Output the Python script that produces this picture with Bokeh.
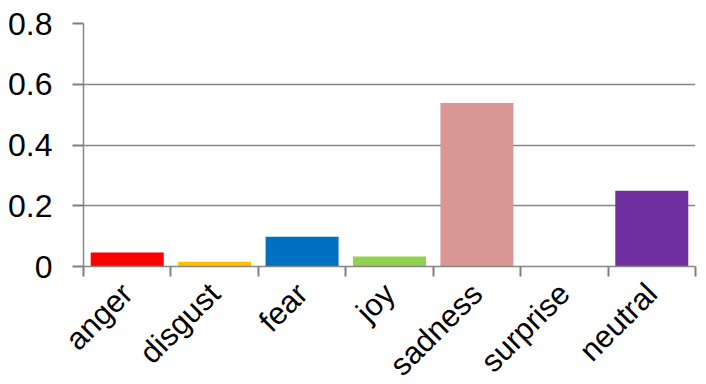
import math
from bokeh.plotting import figure
from bokeh.models import Range1d, FixedTicker, ColumnDataSource
from bokeh.embed import file_html
from bokeh.resources import INLINE

categories = ["anger", "disgust", "fear", "joy", "sadness", "surprise", "neutral"]
values = [0.046, 0.016, 0.098, 0.033, 0.538, 0.0, 0.249]
colors = ["#FF0000", "#FFC000", "#0070C0", "#92D050", "#DA9694", "#A5A5A5", "#7030A0"]
y_ticks = [0, 0.2, 0.4, 0.6, 0.8]
y_labels = ["0", "0.2", "0.4", "0.6", "0.8"]

n = len(categories)
centers = [i + 0.5 for i in range(n)]
bounds = [float(i) for i in range(n + 1)]

src = ColumnDataSource(dict(x=centers, top=values, color=colors))

p = figure(frame_width=612, frame_height=243, output_backend="svg", toolbar_location=None,
           x_range=Range1d(0, n), y_range=Range1d(0, 0.8),
           min_border_left=83, min_border_right=11, min_border_top=23, min_border_bottom=118)
p.outline_line_color = None
p.background_fill_color = "white"
p.border_fill_color = "white"

p.vbar(x="x", top="top", width=0.835, bottom=0, fill_color="color", line_color=None, source=src)

grid_color = "#868686"
tick_color = "#808080"
font = "Liberation Sans"

# y axis
ya = p.yaxis[0]
ya.ticker = FixedTicker(ticks=y_ticks, minor_ticks=[])
ya.major_label_overrides = {t: l for t, l in zip(y_ticks, y_labels)}
ya.major_label_text_font = font
ya.major_label_text_font_size = "32px"
ya.major_label_text_color = "black"
ya.major_tick_out = 11
ya.major_tick_in = 0
ya.major_tick_line_color = tick_color
ya.major_tick_line_width = 2
ya.axis_line_color = grid_color
ya.axis_line_width = 1.5
ya.major_label_standoff = 20

# x axis
xa = p.xaxis[0]
xa.ticker = FixedTicker(ticks=centers, minor_ticks=bounds)
xa.major_label_overrides = {c: cat for c, cat in zip(centers, categories)}
xa.major_label_orientation = math.pi / 4
xa.major_label_text_font = font
xa.major_label_text_font_size = "31px"
xa.major_label_text_color = "black"
xa.major_tick_line_color = None
xa.major_tick_out = 10
xa.major_tick_in = 0
xa.minor_tick_out = 10
xa.minor_tick_in = 0
xa.minor_tick_line_color = tick_color
xa.minor_tick_line_width = 2
xa.axis_line_color = grid_color
xa.axis_line_width = 1.5
xa.major_label_standoff = 12

p.xgrid.visible = False
p.ygrid.ticker = FixedTicker(ticks=y_ticks)
p.ygrid.grid_line_color = grid_color
p.ygrid.grid_line_width = 1.5

open("out.html", "w").write(file_html(p, INLINE))
